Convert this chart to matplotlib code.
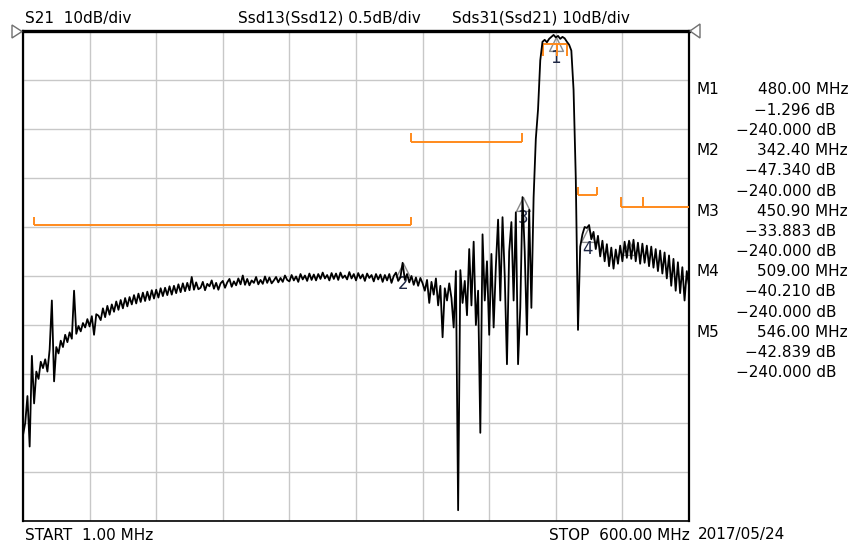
import numpy as np
import matplotlib
matplotlib.use('Agg')
import matplotlib.pyplot as plt
from matplotlib.patches import Polygon

# sweep settings
start_mhz = 1.0
stop_mhz = 600.0
n_points = 301

# S21 trace (dB), one value per sweep point
s21_db = [
    -82.5, -80.0, -74.5, -84.8, -66.3, -76.0, -69.5, -71.0, -67.5, -68.8,
    -67.0, -69.5, -65.0, -55.0, -71.5, -64.5, -65.8, -63.2, -64.5, -62.0,
    -63.5, -61.5, -62.8, -53.0, -61.8, -60.2, -61.3, -59.6, -60.5, -58.8,
    -60.3, -58.2, -62.0, -57.8, -58.1, -59.0, -56.6, -58.4, -56.1, -57.9,
    -55.8, -57.3, -55.2, -56.9, -54.9, -56.6, -54.5, -56.2, -54.3, -55.8,
    -53.9, -55.6, -53.6, -55.3, -53.4, -55.1, -53.2, -54.9, -52.9, -54.6,
    -52.8, -54.4, -52.5, -54.1, -52.4, -53.9, -52.1, -53.8, -52.0, -53.5,
    -51.7, -53.3, -51.5, -53.1, -51.4, -52.9, -50.2, -52.8, -51.3, -52.7,
    -52.4, -51.2, -52.9, -51.6, -52.1, -50.9, -52.6, -51.4, -52.8, -51.5,
    -51.0, -52.4, -51.3, -50.6, -52.2, -51.1, -51.9, -50.5, -51.7, -49.9,
    -51.8, -50.6, -51.9, -50.9, -51.4, -50.2, -51.7, -50.8, -51.6, -50.1,
    -51.4, -50.3, -51.5, -50.9, -50.2, -51.3, -50.4, -51.2, -49.9, -50.8,
    -51.1, -49.8, -50.9, -50.1, -51.2, -49.6, -50.7, -49.9, -51.0, -49.5,
    -50.8, -49.7, -50.9, -49.6, -50.6, -49.3, -50.5, -49.8, -50.9, -49.4,
    -50.6, -49.5, -50.8, -49.3, -50.4, -49.9, -50.7, -49.2, -50.5, -49.6,
    -50.9, -49.4, -50.5, -49.7, -51.0, -49.5, -50.4, -49.8, -51.1, -49.6,
    -50.7, -49.7, -51.2, -49.8, -50.9, -49.6, -51.4, -50.0, -49.3, -51.0,
    -50.3, -47.3, -50.8, -49.6, -51.3, -50.0, -51.8, -50.3, -52.0, -50.4,
    -51.5, -53.0, -50.8, -55.5, -51.2, -53.8, -50.5, -56.0, -52.0, -62.5,
    -52.5, -55.0, -51.5, -54.5, -60.5, -49.0, -97.8, -48.8, -55.5, -51.0,
    -58.0, -44.5, -56.0, -43.0, -60.0, -53.0, -82.0, -41.5, -55.0, -47.0,
    -62.0, -45.5, -60.5, -48.0, -38.5, -55.0, -38.0, -50.0, -68.0, -45.0,
    -39.0, -55.0, -37.0, -68.0, -56.5, -33.9, -45.0, -62.0, -36.5, -56.5,
    -34.0, -22.0, -16.0, -6.0, -2.2, -1.8, -2.3, -1.6, -1.2, -0.8,
    -1.3, -1.0, -1.6, -1.2, -1.5, -2.2, -2.8, -4.0, -12.0, -30.0,
    -61.0, -44.0, -41.5, -40.0, -40.2, -39.6, -42.5, -41.0, -44.5, -41.8,
    -46.0, -42.8, -47.0, -43.5, -48.0, -44.2, -48.5, -44.6, -47.5, -43.8,
    -47.0, -43.0, -46.3, -42.8, -46.5, -42.6, -47.0, -43.2, -47.5, -43.4,
    -47.3, -43.8, -48.0, -44.0, -48.3, -44.5, -49.0, -44.8, -49.5, -45.2,
    -50.5, -45.8, -52.0, -46.5, -53.0, -47.2, -53.5, -48.2, -55.0, -49.0,
    -52.0,
]

# limit line segments: start MHz, stop MHz, level dB, tick positions, tick length dB
lim_start = [10.9, 350.0, 468.7, 500.2, 538.8]
lim_stop = [350.0, 450.0, 490.3, 517.3, 600.0]
lim_level = [-39.6, -22.6, -2.7, -33.5, -35.9]
lim_ticks = [[10.9, 350.0], [350.0, 450.0], [468.7, 481.3, 490.3], [500.2, 517.3], [538.8, 558.6]]
lim_tick_len = [1.7, 1.7, -2.5, 1.7, 2.0]

# markers
mk_names = ['M1', 'M2', 'M3', 'M4', 'M5']
mk_freq = [480.00, 342.40, 450.90, 509.00, 546.00]
mk_db = [-1.296, -47.340, -33.883, -40.210, -42.839]
mk_db2 = [-240.000, -240.000, -240.000, -240.000, -240.000]

W, H = 852, 546
plt.rcParams['font.family'] = ['DejaVu Sans']

fig = plt.figure(figsize=(W / 100, H / 100), dpi=100)
fig.patch.set_facecolor('white')


def fx(x):
    return x / W


def fy(y):
    return 1 - y / H


ax = fig.add_axes([fx(23), fy(521), (689 - 23) / W, (521 - 31) / H])
freq = np.linspace(start_mhz, stop_mhz, n_points)

ax.set_xlim(start_mhz, stop_mhz)
ax.set_ylim(-100, 0)
ax.set_xticks(np.linspace(start_mhz, stop_mhz, 11))
ax.set_yticks(np.linspace(-100, 0, 11))
ax.tick_params(length=0, labelbottom=False, labelleft=False)
ax.grid(True, color='#c8c8c8', lw=1)
ax.set_axisbelow(True)
for side, w in [('top', 2.4), ('left', 1.6), ('right', 1.6), ('bottom', 1.2)]:
    ax.spines[side].set_linewidth(w)
    ax.spines[side].set_color('black')

orange = '#ff8a1c'
for f0, f1, lv, ticks, tl in zip(lim_start, lim_stop, lim_level, lim_ticks, lim_tick_len):
    ax.plot([f0, f1], [lv, lv], color=orange, lw=1.4, zorder=3, solid_capstyle='butt')
    for t in ticks:
        ax.plot([t, t], [lv, lv + tl], color=orange, lw=1.4, zorder=3, solid_capstyle='butt')

# marker triangles with the apex on the point (M5 sits inside the noise)
tri = [(0, 0), (-0.5, -1), (0.5, -1), (0, 0)]
for i, (f, d) in enumerate(zip(mk_freq, mk_db)):
    ax.plot([f], [d], marker=tri, ms=20, mfc='none', mec='#8a8a8a', mew=1.0,
            ls='none', zorder=2)
    if i < 4:
        ax.annotate(str(i + 1), (f, d), xytext=(0, -15), textcoords='offset points',
                    ha='center', va='center', fontsize=12, color='#1e2744', zorder=2)

ax.plot(freq, s21_db, color='black', lw=1.3, zorder=4)

# reference level triangles
fig.patches.append(Polygon([(fx(12), fy(25)), (fx(12), fy(38)), (fx(22), fy(31.5))],
                           closed=True, fill=False, ec='#707070', lw=1,
                           transform=fig.transFigure, figure=fig))
fig.patches.append(Polygon([(fx(700), fy(24)), (fx(700), fy(38)), (fx(690), fy(31))],
                           closed=True, fill=False, ec='#707070', lw=1,
                           transform=fig.transFigure, figure=fig))

# header
fs = 11
fig.text(fx(25), fy(18), 'S21  10dB/div', fontsize=fs, va='center', ha='left')
fig.text(fx(238), fy(18), 'Ssd13(Ssd12) 0.5dB/div', fontsize=fs, va='center', ha='left')
fig.text(fx(452), fy(18), 'Sds31(Ssd21) 10dB/div', fontsize=fs, va='center', ha='left')

# marker table
row = 90
for name, f, d, d2 in zip(mk_names, mk_freq, mk_db, mk_db2):
    fig.text(fx(697), fy(row), name, fontsize=fs, va='center', ha='left')
    fig.text(fx(848), fy(row), f'{f:.2f} MHz', fontsize=fs, va='center', ha='right')
    fig.text(fx(836), fy(row + 20.2), f'{d:.3f} dB'.replace('-', '\u2212'),
             fontsize=fs, va='center', ha='right')
    fig.text(fx(836), fy(row + 40.4), f'{d2:.3f} dB'.replace('-', '\u2212'),
             fontsize=fs, va='center', ha='right')
    row += 60.6

# footer
fig.text(fx(25), fy(535), f'START  {start_mhz:.2f} MHz', fontsize=fs, va='center', ha='left')
fig.text(fx(690), fy(535), f'STOP  {stop_mhz:.2f} MHz', fontsize=fs, va='center', ha='right')
fig.text(fx(698), fy(535), '2017/05/24', fontsize=fs, va='center', ha='left')

fig.savefig('out.png', dpi=100)
